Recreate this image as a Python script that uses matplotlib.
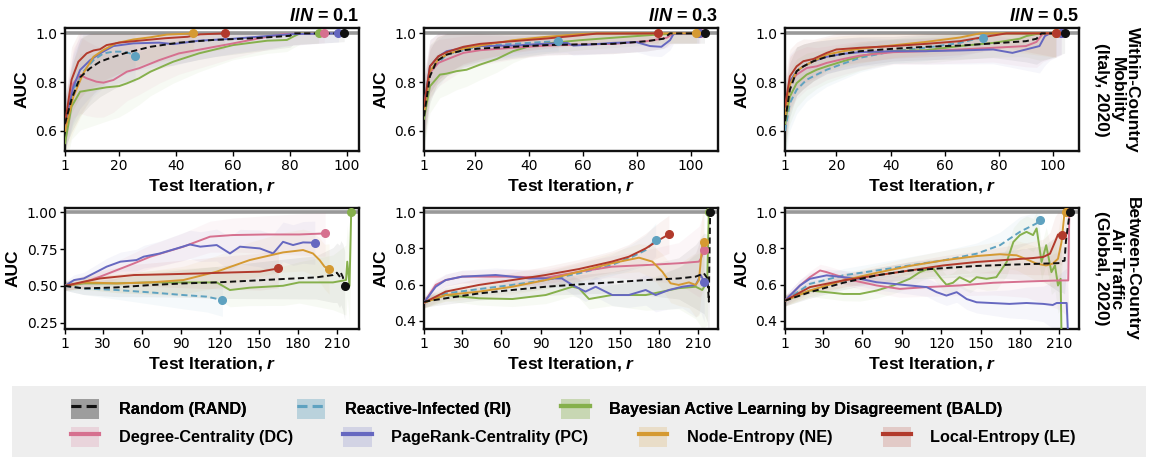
"""AUC vs test iteration for seven query strategies, two networks x three I/N ratios."""

import numpy as np
import matplotlib
matplotlib.use('Agg')
import matplotlib.pyplot as plt
from matplotlib.patches import Patch, Rectangle
from matplotlib.lines import Line2D
from matplotlib.legend_handler import HandlerTuple

plt.rcParams['font.family'] = ['DejaVu Sans']
plt.rcParams['mathtext.fontset'] = 'custom'
plt.rcParams['mathtext.rm'] = 'Liberation Sans:bold'
plt.rcParams['mathtext.it'] = 'Liberation Sans:bold:italic'
plt.rcParams['mathtext.bf'] = 'Liberation Sans:bold'

BOLD = dict(family='Liberation Sans', weight='bold')

STRATS = ['RAND', 'RI', 'BALD', 'DC', 'PC', 'NE', 'LE']
LABELS = ['Random (RAND)', 'Reactive-Infected (RI)',
          'Bayesian Active Learning by Disagreement (BALD)',
          'Degree-Centrality (DC)', 'PageRank-Centrality (PC)',
          'Node-Entropy (NE)', 'Local-Entropy (LE)']
COLORS = {'RAND': '#111111', 'RI': '#5fa2c0', 'BALD': '#86b04c',
          'DC': '#d6708f', 'PC': '#6668c0', 'NE': '#d59a32', 'LE': '#b23a2c'}
DASHED = {'RAND', 'RI'}
RATIOS = ['0.1', '0.3', '0.5']
ROW_NAMES = ['Within-Country\nMobility\n(Italy, 2020)',
             'Between-Country\nAir Traffic\n(Global, 2020)']

# ---- (r, AUC) ------------------------------------------------------------
# Italy, I/N = 0.1
P1_RAND = [(1, .63), (3.3, .73), (6.3, .82), (9.8, .857), (13.3, .884), (18, .904),
           (22.7, .921), (31, .945), (41, .962), (53, .973), (67, .98), (80, .99),
           (81, 1.0), (99, 1.0)]
P1_RI = [(1, .62), (3.9, .77), (7.4, .843), (11, .89), (14.5, .918), (18, .925),
         (21.5, .925), (23.8, .918), (25.6, .909)]
P1_BALD = [(1, .55), (3.3, .70), (6.3, .761), (11, .77), (15.6, .779), (20, .784),
           (22.7, .795), (27, .816), (31, .843), (39, .884), (48, .918), (60, .952),
           (72, .97), (78.9, .973), (81, .986), (83.5, 1.0), (90, 1.0)]
P1_DC = [(1, .62), (3.9, .795), (6.3, .83), (8.6, .816), (12, .802), (14.5, .798),
         (18, .809), (22.7, .843), (27, .857), (34, .89), (41, .918), (50.8, .939),
         (60, .959), (72, .986), (77.7, .997), (92, 1.0)]
P1_PC = [(1, .62), (3.9, .78), (6.3, .85), (9.8, .89), (13.3, .918), (18, .948),
         (25, .959), (34, .962), (39, .956), (48, .97), (60, .978), (71.8, .989),
         (81, .997), (97, 1.0)]
P1_NE = [(1, .60), (3.9, .74), (7.4, .836), (11, .904), (14.5, .932), (19, .96),
         (25, .975), (31, .984), (36.7, .995), (46, 1.0)]
P1_LE = [(1, .63), (3.3, .81), (5.7, .884), (8.6, .918), (11, .93), (13.3, .935),
         (15.6, .952), (20, .962), (27, .97), (36, .98), (44, .986), (48.4, .996),
         (57, 1.0)]

# Italy, I/N = 0.3
P2_RAND = [(1, .66), (3.2, .824), (5.7, .886), (9.4, .913), (15.6, .931), (21.8, .938),
           (34, .945), (46.5, .952), (58.8, .955), (71, .957), (83.6, .968),
           (89.8, .978), (92.2, 1.0), (105, 1.0)]
P2_RI = [(1, .67), (3.2, .845), (9.4, .913), (21.8, .948), (34, .957), (44, .964),
         (50.8, .968)]
P2_BALD = [(1, .65), (3.2, .783), (6.9, .831), (9.4, .835), (13, .845), (16.8, .851),
           (21.8, .872), (28, .895), (34, .927), (40.3, .948), (46.5, .959),
           (58.8, .972), (71, .982), (83.6, .992), (91, .997), (93.5, 1.0), (102.7, 1.0)]
P2_DC = [(1, .68), (3.2, .838), (6.3, .879), (9.4, .893), (15.6, .92), (21.8, .931),
         (34, .941), (46.5, .95), (58.8, .954), (71, .957), (83.6, .968), (91, .982),
         (93.5, 1.0), (103.3, 1.0)]
P2_PC = [(1, .70), (3.2, .865), (6.3, .905), (9.4, .927), (15.6, .94), (21.8, .948),
         (34, .95), (46.5, .958), (54, .961), (56.4, .95), (61, .953), (71, .961),
         (79.8, .964), (84.8, .948), (89, .945), (92.2, .972), (93.5, .997), (103, 1.0)]
P2_NE = [(1, .68), (3.2, .845), (6.3, .893), (9.4, .913), (15.6, .937), (21.8, .95),
         (34, .972), (46.5, .986), (58.8, .997), (65, 1.0), (102, 1.0)]
P2_LE = [(1, .70), (3.2, .865), (6.3, .906), (9.4, .923), (15.6, .945), (21.8, .957),
         (34, .968), (46.5, .979), (58.8, .992), (65, .999), (87.9, 1.0)]

# Italy, I/N = 0.5
P3_RAND = [(1, .64), (2.8, .769), (5.3, .845), (7.8, .865), (11.5, .886), (16.4, .904),
           (22.5, .916), (28.7, .927), (41, .937), (53, .945), (65.6, .95), (77.9, .959),
           (90, .968), (93.9, .978), (95.7, 1.0), (104.3, 1.0)]
P3_RI = [(1, .60), (2.8, .714), (5.3, .769), (9, .81), (12.7, .831), (16.4, .851),
         (22.5, .876), (28.7, .90), (41, .927), (53, .941), (65.6, .961), (71.7, .978),
         (74, .982)]
P3_BALD = [(1, .63), (2.8, .741), (5.3, .796), (9, .831), (12.7, .851), (16.4, .865),
           (22.5, .886), (28.7, .906), (34.8, .92), (41, .928), (53, .931), (65.6, .948),
           (77.9, .961), (87.7, .978), (90.2, .989), (95, 1.0), (101, 1.0)]
P3_DC = [(1, .66), (2.8, .796), (5.3, .831), (9, .858), (12.7, .865), (16.4, .879),
         (22.5, .895), (28.7, .909), (41, .923), (53, .927), (65.6, .934), (77.9, .941),
         (90, .948), (93.9, .965), (96.3, 1.0), (103, 1.0)]
P3_PC = [(1, .66), (2.8, .803), (5.3, .845), (7.8, .865), (11.5, .886), (16.4, .904),
         (22.5, .916), (28.7, .923), (41, .927), (53, .927), (65.6, .93), (77.9, .934),
         (85, .92), (90, .934), (95, .948), (97, .989), (98.9, 1.0), (103, 1.0)]
P3_NE = [(1, .66), (2.8, .789), (5.3, .845), (7.8, .865), (11.5, .886), (16.4, .913),
         (22.5, .927), (28.7, .937), (41, .951), (53, .965), (65.6, .983), (73, 1.0),
         (101, 1.0)]
P3_LE = [(1, .70), (2.8, .824), (5.3, .865), (7.8, .886), (11.5, .895), (16.4, .92),
         (20, .934), (28.7, .941), (41, .948), (53, .957), (65.6, .968), (75, .986),
         (82.8, 1.0), (101.2, 1.0)]

# Global air traffic, I/N = 0.1
P4_RAND = [(1, .50), (15.5, .483), (41, .49), (66.6, .506), (92, .517), (117.6, .524),
           (143, .535), (168.6, .547), (194, .558), (207, .574), (210, .59), (212, .565),
           (213, .59), (214.6, .56), (216, .501)]
P4_RI = [(1, .50), (15.5, .483), (41, .472), (66.6, .456), (92, .438), (110, .427),
         (122, .404)]
P4_BALD = [(1, .50), (15.5, .517), (41, .517), (66.6, .524), (92, .524), (117.6, .524),
           (127.8, .472), (143, .488), (168.6, .501), (181, .524), (207, .524),
           (217, .54), (218, .665), (219.7, .50), (221, 1.0)]
P4_DC = [(1, .50), (15.5, .524), (28, .563), (54, .653), (66.6, .699), (92, .767),
         (112.5, .835), (130, .846), (155.9, .85), (181, .85), (201, .857)]
P4_PC = [(1, .50), (8, .54), (15.5, .551), (28, .608), (33, .631), (43.6, .665),
         (56, .676), (61.5, .699), (74, .721), (87, .755), (97, .782), (105, .767),
         (117.6, .778), (127.8, .721), (135.5, .767), (150.8, .755), (161, .721),
         (168.6, .80), (176.3, .778), (184, .796), (193, .794)]
P4_NE = [(1, .50), (15.5, .524), (41, .517), (66.6, .524), (92, .54), (117.6, .597),
         (143, .676), (168.6, .728), (184, .744), (191.6, .721), (196.7, .676),
         (200.5, .631), (204, .615)]
P4_LE = [(1, .50), (15.5, .529), (28, .551), (54, .574), (79, .579), (105, .585),
         (130, .592), (150.8, .597), (165, .619)]

# Global air traffic, I/N = 0.3
P5_RAND = [(1, .505), (17.5, .524), (42.9, .551), (68.3, .57), (93.7, .588), (119, .601),
           (144, .612), (169.9, .625), (195, .634), (208, .644), (214.3, .662),
           (217, .634), (218, .505), (219, 1.0)]
P5_RI = [(1, .50), (17.5, .551), (42.9, .575), (68.3, .598), (93.7, .625), (119, .662),
         (144, .708), (159.7, .754), (169.9, .791), (177.5, .847)]
P5_BALD = [(1, .50), (17.5, .542), (42.9, .524), (68.3, .52), (93.7, .542), (114, .588),
           (119, .58), (126.7, .52), (144, .542), (169.9, .542), (182.6, .561),
           (195, .58), (208, .588), (213, .57), (216.8, .616), (218, 1.0)]
P5_DC = [(1, .50), (9.9, .598), (17.5, .625), (30, .644), (42.9, .644), (68.3, .644),
         (93.7, .638), (119, .671), (144, .699), (169.9, .708), (195, .718),
         (210.5, .727), (212, .745), (214.3, .791)]
P5_PC = [(1, .50), (9.9, .588), (17.5, .625), (30, .644), (55.6, .653), (68.3, .644),
         (81, .634), (106, .634), (114, .598), (124, .561), (131.8, .588), (144.5, .542),
         (157, .542), (169.9, .57), (177.5, .542), (187.6, .57), (197.8, .588),
         (208, .598), (211.8, .653), (214.5, .616)]
P5_NE = [(1, .50), (17.5, .542), (42.9, .561), (68.3, .588), (93.7, .625), (119, .671),
         (144, .718), (164.8, .749), (175, .727), (182.6, .671), (188.9, .607),
         (195, .598), (202.9, .612), (208, .598), (210.5, .625), (213, .819),
         (214.3, .838)]
P5_LE = [(1, .50), (17.5, .561), (42.9, .598), (68.3, .625), (93.7, .653), (119, .686),
         (144, .727), (157, .754), (169.9, .80), (180, .847), (187.6, .878)]

# Global air traffic, I/N = 0.5
P6_RAND = [(1, .511), (20, .558), (45.4, .61), (70.8, .651), (96, .678), (121.6, .691),
           (147, .703), (172, .71), (197.8, .716), (210.5, .719), (211.7, .729),
           (214, .732), (215, .836), (215.6, .874), (217, .948), (218, 1.0)]
P6_RI = [(1, .511), (20, .604), (45.4, .651), (70.8, .678), (96, .706), (121.6, .734),
         (147, .771), (164.8, .818), (180, .892), (192.7, .939), (195, .957)]
P6_BALD = [(1, .511), (20, .567), (32.7, .558), (45.4, .548), (58, .548), (70.8, .567),
           (83.5, .595), (96, .632), (103.8, .669), (109, .684), (114, .688), (120, .632),
           (124, .599), (129, .61), (134, .641), (142, .613), (147, .641), (154.6, .632),
           (162, .641), (169.9, .725), (175, .836), (180, .874), (185, .892), (190, .874),
           (192.7, .911), (196.5, .725), (200, .818), (204, .669), (206.7, .706),
           (209, .595), (211, .632), (211.7, .30)]
P6_DC = [(1, .511), (12.4, .595), (20, .641), (27.7, .678), (32.7, .669), (40.4, .651),
         (53, .623), (70.8, .595), (88.6, .576), (108.9, .586), (134, .595),
         (159.7, .61), (185, .617), (210.5, .623), (216.8, .623), (217.6, 1.0)]
P6_PC = [(1, .511), (12.4, .595), (20, .632), (32.7, .651), (45.4, .641), (58, .632),
         (70.8, .613), (83.5, .604), (96, .595), (108.9, .586), (116.5, .558),
         (124, .539), (131.8, .558), (139.4, .52), (147, .502), (172, .493),
         (185, .498), (197.8, .493), (205, .487), (208, .498), (215.6, .498),
         (216.8, .30)]
P6_NE = [(1, .511), (20, .567), (45.4, .623), (70.8, .665), (96, .703), (121.6, .734),
         (147, .758), (164.8, .768), (177.5, .762), (185, .74), (192.7, .716),
         (200, .706), (205, .716), (209, .743), (211.7, .836), (214, 1.0), (215, 1.0)]
P6_LE = [(1, .511), (20, .586), (45.4, .623), (70.8, .651), (96, .678), (121.6, .706),
         (147, .725), (172, .738), (190, .747), (197.8, .753), (202.9, .771),
         (206.7, .836), (209, .877), (211.7, .877)]

# spread of the shaded bands (r, half-width)
P1_SPREAD = [(1, .10), (5, .16), (15, .14), (30, .10), (60, .06), (90, .04), (105, .03)]
P2_SPREAD = [(1, .12), (5, .10), (15, .07), (40, .04), (80, .04), (110, .04)]
P3_SPREAD = [(1, .12), (5, .10), (15, .07), (40, .05), (85, .06), (97, .12), (110, .05)]
P4_SPREAD = [(1, .03), (50, .07), (120, .11), (200, .15), (225, .28)]
P5_SPREAD = [(1, .03), (60, .04), (150, .06), (200, .12), (225, .30)]
P6_SPREAD = [(1, .03), (60, .04), (150, .06), (200, .10), (225, .25)]

SERIES = [
    [P1_RAND, P1_RI, P1_BALD, P1_DC, P1_PC, P1_NE, P1_LE],
    [P2_RAND, P2_RI, P2_BALD, P2_DC, P2_PC, P2_NE, P2_LE],
    [P3_RAND, P3_RI, P3_BALD, P3_DC, P3_PC, P3_NE, P3_LE],
    [P4_RAND, P4_RI, P4_BALD, P4_DC, P4_PC, P4_NE, P4_LE],
    [P5_RAND, P5_RI, P5_BALD, P5_DC, P5_PC, P5_NE, P5_LE],
    [P6_RAND, P6_RI, P6_BALD, P6_DC, P6_PC, P6_NE, P6_LE],
]
SPREADS = [P1_SPREAD, P2_SPREAD, P3_SPREAD, P4_SPREAD, P5_SPREAD, P6_SPREAD]
XLIMS = [(1, 104.2), (1, 110), (1, 109.6), (1, 227), (1, 225), (1, 225)]
YLIMS = [(.518, 1.022)] * 3 + [(.207, 1.03), (.354, 1.024), (.354, 1.024)]
XTICKS_TOP = [1, 20, 40, 60, 80, 100]
XTICKS_BOT = [1, 30, 60, 90, 120, 150, 180, 210]
YTICKS = [[.6, .8, 1.0]] * 3 + [[.25, .5, .75, 1.0], [.4, .6, .8, 1.0], [.4, .6, .8, 1.0]]

# draw order (RAND on top, like the original)
DRAW_ORDER = [1, 2, 3, 4, 5, 6, 0]


def dash(s):
    return (0, (3.2, 1.8)) if s in DASHED else '-'


def main():
    W, H = 1151, 458
    fig = plt.figure(figsize=(W / 100, H / 100), dpi=100)

    lefts = [65, 424, 785]
    rows = [(28, 151), (208, 329)]
    axes = []
    for i in range(6):
        r, c = divmod(i, 3)
        top, bot = rows[r]
        ax = fig.add_axes([lefts[c] / W, 1 - bot / H, 294 / W, (bot - top) / H])
        axes.append(ax)

    for i, ax in enumerate(axes):
        sp_r, sp_w = zip(*SPREADS[i])
        ax.axhline(1.0, color='#999999', lw=2.6, zorder=1)
        for s, pts in zip(STRATS, SERIES[i]):
            x = np.array([p[0] for p in pts])
            y = np.array([p[1] for p in pts])
            w = np.interp(x, sp_r, sp_w)
            ax.fill_between(x, y - w, np.minimum(y + w, 1.0), color=COLORS[s],
                            alpha=0.06, lw=0, zorder=2)
        for k in DRAW_ORDER:
            s, pts = STRATS[k], SERIES[i][k]
            x = [p[0] for p in pts]
            y = [p[1] for p in pts]
            ax.plot(x, y, color=COLORS[s], ls=dash(s), lw=1.4, zorder=3)
            ax.plot(x[-1], y[-1], 'o', color=COLORS[s], ms=5.5, zorder=4)
        ax.set_xlim(*XLIMS[i])
        ax.set_ylim(*YLIMS[i])
        ax.set_xticks(XTICKS_TOP if i < 3 else XTICKS_BOT)
        ax.set_yticks(YTICKS[i])
        if i == 3:
            ax.set_yticklabels(['0.25', '0.50', '0.75', '1.00'])
        else:
            ax.set_yticklabels([f'{v:.1f}' for v in YTICKS[i]])
        ax.tick_params(labelsize=10, length=3.5, width=1, pad=2)
        for sp in ax.spines.values():
            sp.set_linewidth(1.7)
            sp.set_color('#111111')
        ax.set_xlabel('Test Iteration, $r$', fontsize=12.5, labelpad=3, **BOLD)
        ax.set_ylabel('AUC', fontsize=12.5, labelpad=4, **BOLD)
        if i < 3:
            ax.set_title(f'$I/N$ = {RATIOS[i]}', loc='right', fontsize=13,
                         pad=5, **BOLD)

    for j, name in enumerate(ROW_NAMES):
        top, bot = rows[j]
        fig.text(1117 / W, 1 - (top + bot) / 2 / H, name, rotation=270,
                 ha='center', va='center', fontsize=12.5, linespacing=1.05, **BOLD)

    # legend panel
    fig.patches.append(Rectangle((12 / W, 1 - 457 / H), 1134 / W, 71 / H,
                                 transform=fig.transFigure, facecolor='#eeeeee',
                                 edgecolor='none', zorder=0))
    handles = []
    for s in STRATS:
        handles.append((Patch(facecolor=COLORS[s], alpha=0.2, edgecolor='none'),
                        Line2D([], [], color=COLORS[s], ls=dash(s),
                               lw=3 if s not in DASHED else 2.2)))
    kw = dict(frameon=False, handlelength=1.75, handleheight=1.6,
              handletextpad=1.2, columnspacing=3.1, borderpad=0, borderaxespad=0,
              handler_map={tuple: HandlerTuple(ndivide=1, pad=0)},
              prop={'family': 'Liberation Sans', 'weight': 'bold', 'size': 11.7})
    leg1 = fig.legend(handles[:3], LABELS[:3], ncol=3, loc='center left',
                      bbox_to_anchor=(71 / W, 1 - 409 / H), **kw)
    fig.add_artist(leg1)
    fig.legend(handles[3:], LABELS[3:], ncol=4, loc='center left',
               bbox_to_anchor=(71 / W, 1 - 437 / H), **kw)

    fig.savefig('out.png', dpi=100)


if __name__ == '__main__':
    main()
